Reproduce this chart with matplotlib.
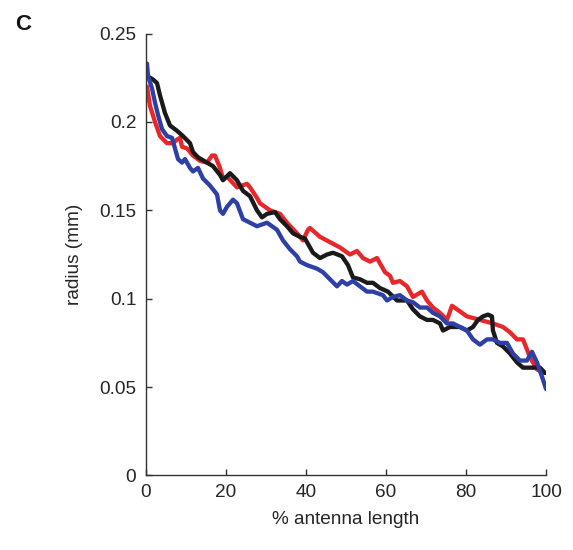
import numpy as np
import matplotlib
matplotlib.use('Agg')
import matplotlib.pyplot as plt

plt.rcParams['font.family'] = ['Liberation Sans', 'DejaVu Sans']

# values (x in % antenna length, y radius in mm)
red_x = [0.25, 1, 2.25, 3.5, 5.25, 6.75, 7.75, 8.5, 9, 10.25, 11.75, 13.5, 15.25, 16.5, 17.25,
         18.5, 19.25, 20.25, 22.75, 25.25, 26, 27.75, 28.5, 31, 33.5, 35.25, 37.75, 39.25, 40.5,
         41, 43.5, 46, 48.5, 51, 52.75, 54.25, 56, 57.75, 59.75, 61, 61.75, 63.5, 65.25, 66.75,
         69, 70.25, 71.75, 73.5, 75.25, 76.5, 77.75, 80.25, 83.5, 86.75, 89.25, 91, 92.75, 94.25,
         96, 97.75, 99.75]
red_y = [0.220, 0.209, 0.200, 0.192, 0.188, 0.188, 0.190, 0.191, 0.186, 0.185, 0.181, 0.178,
         0.177, 0.181, 0.181, 0.174, 0.168, 0.169, 0.163, 0.165, 0.163, 0.157, 0.154, 0.150,
         0.148, 0.143, 0.137, 0.133, 0.139, 0.140, 0.135, 0.132, 0.129, 0.125, 0.127, 0.123,
         0.121, 0.123, 0.115, 0.113, 0.109, 0.110, 0.107, 0.101, 0.104, 0.099, 0.095, 0.092,
         0.088, 0.096, 0.094, 0.090, 0.088, 0.086, 0.084, 0.081, 0.077, 0.077, 0.067, 0.060,
         0.058]

black_x = [0.25, 1.75, 2.75, 3.5, 4.75, 6, 7.75, 9.25, 11, 11.75, 13, 15.25, 16.75, 18.5, 19.25,
           21, 22.75, 24.25, 26, 27.75, 29, 30.25, 32.25, 33.5, 35.25, 36.75, 38.5, 39.75, 41.75,
           43.5, 45.25, 46.75, 49, 50.5, 51.75, 53.5, 55.25, 56.75, 58.5, 60.5, 62.75, 65.25,
           66.75, 68.5, 70.25, 71.75, 73.5, 74.25, 76, 78.5, 80.25, 81.75, 83, 84.25, 85.5, 86.5,
           86.75, 87.75, 89.25, 91, 92.75, 94.25, 96, 98.5, 99.75]
black_y = [0.226, 0.224, 0.222, 0.215, 0.205, 0.198, 0.195, 0.192, 0.188, 0.183, 0.180, 0.177,
           0.175, 0.170, 0.167, 0.171, 0.167, 0.161, 0.158, 0.150, 0.146, 0.148, 0.149, 0.145,
           0.141, 0.137, 0.135, 0.134, 0.126, 0.123, 0.125, 0.126, 0.124, 0.119, 0.112, 0.111,
           0.109, 0.109, 0.106, 0.104, 0.099, 0.099, 0.094, 0.090, 0.088, 0.088, 0.086, 0.082,
           0.084, 0.084, 0.082, 0.084, 0.088, 0.090, 0.091, 0.090, 0.082, 0.075, 0.073, 0.069,
           0.064, 0.061, 0.061, 0.061, 0.058]

blue_x = [0.25, 0.5, 1.5, 2.25, 3, 4, 5.25, 6.5, 7.25, 8, 9, 9.75, 11, 11.75, 13, 14.25, 16,
          17.75, 18.5, 19.25, 20.25, 21.75, 22.75, 24.25, 26, 27.75, 30.25, 32.75, 34.25, 36,
          37.75, 38.5, 40.25, 42.75, 44.25, 46, 47.75, 49, 50.25, 51.75, 53.5, 55.25, 56.75,
          59.25, 60.25, 61.75, 63.5, 65.25, 66.75, 68.5, 70.25, 71.75, 73.5, 75.25, 76.75, 78.5,
          80.25, 81.75, 83.5, 85.25, 86.75, 88.5, 90.25, 91.75, 93.5, 95.25, 96.5, 97.75, 99, 100]
blue_y = [0.233, 0.226, 0.219, 0.211, 0.204, 0.196, 0.192, 0.191, 0.185, 0.179, 0.177, 0.179,
          0.174, 0.172, 0.174, 0.168, 0.164, 0.159, 0.150, 0.148, 0.152, 0.156, 0.154, 0.145,
          0.143, 0.141, 0.143, 0.139, 0.133, 0.128, 0.124, 0.121, 0.119, 0.117, 0.115, 0.111,
          0.107, 0.110, 0.108, 0.110, 0.107, 0.104, 0.104, 0.102, 0.099, 0.101, 0.102, 0.099,
          0.098, 0.095, 0.095, 0.092, 0.090, 0.086, 0.086, 0.084, 0.082, 0.077, 0.074, 0.077,
          0.077, 0.075, 0.075, 0.069, 0.065, 0.065, 0.070, 0.064, 0.056, 0.049]

x_ticks = [0, 20, 40, 60, 80, 100]
y_ticks = [0, 0.05, 0.1, 0.15, 0.2, 0.25]
y_tick_labels = ['0', '0.05', '0.1', '0.15', '0.2', '0.25']

text_col = '#262626'

fig = plt.figure(figsize=(5.73, 5.5), dpi=100)
ax = fig.add_axes([0.2548, 0.1355, 0.698, 0.8035])

lw = 3.1
ax.plot(red_x, red_y, color='#e8272b', lw=lw, solid_joinstyle='round', solid_capstyle='round')
ax.plot(black_x, black_y, color='#1a1a1a', lw=lw, solid_joinstyle='round', solid_capstyle='round')
ax.plot(blue_x, blue_y, color='#2e40a6', lw=lw, solid_joinstyle='round', solid_capstyle='round')

ax.set_xlim(0, 100)
ax.set_ylim(0, 0.25)
ax.set_xticks(x_ticks)
ax.set_yticks(y_ticks)
ax.set_yticklabels(y_tick_labels)
ax.spines['top'].set_visible(False)
ax.spines['right'].set_visible(False)
for s in ['left', 'bottom']:
    ax.spines[s].set_color('#333333')
    ax.spines[s].set_linewidth(1.0)
ax.tick_params(direction='in', length=4, width=1, color='#333333',
               labelsize=13.7, labelcolor=text_col)
ax.tick_params(axis='x', pad=6)
ax.tick_params(axis='y', pad=7)

ax.set_xlabel('% antenna length', fontsize=13.7, color=text_col, labelpad=7)
ax.set_ylabel('radius (mm)', fontsize=13.7, color=text_col, labelpad=12)

fig.text(0.026, 0.945, 'C', fontsize=16, fontweight='bold', color='#111111')

fig.savefig('out.png', dpi=100)
